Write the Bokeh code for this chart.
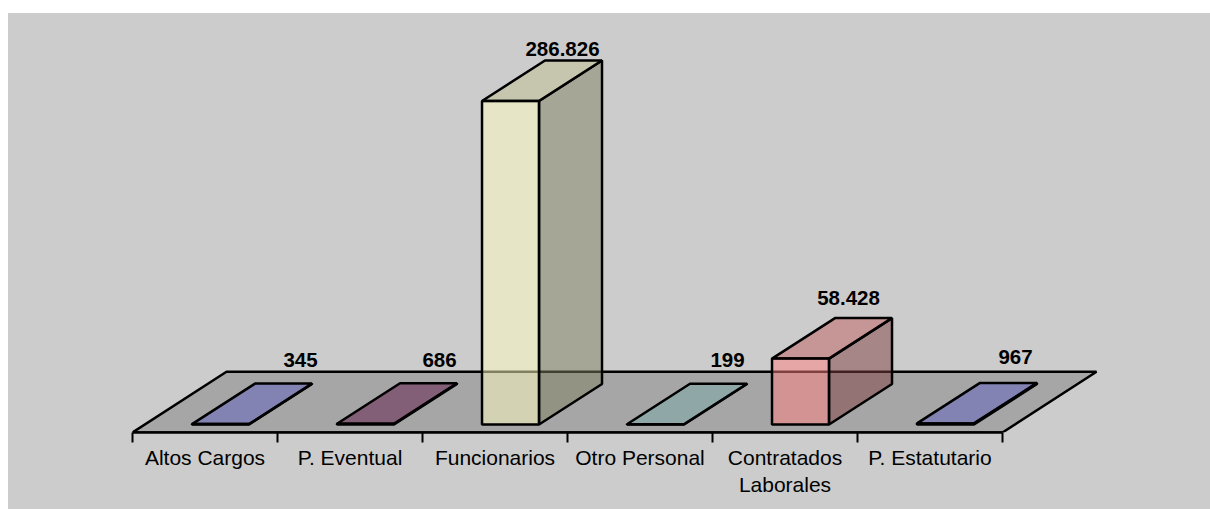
from bokeh.plotting import figure
from bokeh.models import Range1d, LinearAxis, FixedTicker, ColumnDataSource
from bokeh.core.properties import value
from bokeh.embed import file_html
from bokeh.resources import INLINE

# --- data ---
line1 = ["Altos Cargos", "P. Eventual", "Funcionarios", "Otro Personal", "Contratados", "P. Estatutario"]
line2 = ["", "", "", "", "Laborales", ""]
values = [345, 686, 286826, 199, 58428, 967]
value_labels = ["345", "686", "286.826", "199", "58.428", "967"]
colors = ["#8080FF", "#802060", "#FFFFC0", "#A0E0E0", "#FF8080", "#8080FF"]

# --- label placement (screen px relative to the bar's front top) ---
label_dx = [80, 74, 52, 72, 48, 70]
label_dy = [-64, -64, -52, -64, -61, -66]

# --- scales ---
PX_PER_CAT = 145.0
VAL_PER_PX = 286826 / 323.5
FRAME_W, FRAME_H = 968, 402
BASE_PX = 8              # zero plane sits this far above the front axis
BAR_W = 57 / PX_PER_CAT
BAR_SHIFT = 0.107
BAR_DX = 63 / PX_PER_CAT
BAR_DY = 40.5 * VAL_PER_PX
FLOOR_DX = 94 / PX_PER_CAT
FLOOR_DY = 60.7 * VAL_PER_PX
LINE_W = 2.5
y_bottom = -BASE_PX * VAL_PER_PX
n = len(values)

p = figure(
    width=1202, height=496, output_backend="svg", toolbar_location=None,
    frame_width=FRAME_W, frame_height=FRAME_H,
    x_range=Range1d(0, FRAME_W / PX_PER_CAT),
    y_range=Range1d(y_bottom, (FRAME_H - BASE_PX) * VAL_PER_PX),
    x_axis_type=None, y_axis_type=None,
    min_border_left=124, min_border_right=110, min_border_top=17, min_border_bottom=77,
)
p.styles = {"margin-top": "13px", "margin-left": "8px", "background-color": "#cccccc"}
p.background_fill_color = None
p.border_fill_color = None
p.outline_line_color = None
p.grid.visible = False


def shade(hex_color, k):
    r, g, b = (int(hex_color[i:i + 2], 16) for i in (1, 3, 5))
    return "#%02x%02x%02x" % (int(r * k), int(g * k), int(b * k))


# floor
p.patch([0, n, n + FLOOR_DX, FLOOR_DX], [y_bottom, y_bottom, y_bottom + FLOOR_DY, y_bottom + FLOOR_DY],
        fill_color="#a6a6a6", line_color="black", line_width=LINE_W)

# bars
for i, (v, c) in enumerate(zip(values, colors)):
    cx = i + 0.5 + BAR_SHIFT
    x0, x1 = cx - BAR_W / 2, cx + BAR_W / 2
    style = dict(line_color="black", line_width=LINE_W, fill_alpha=0.5)
    p.patch([x1, x1 + BAR_DX, x1 + BAR_DX, x1], [0, BAR_DY, v + BAR_DY, v], fill_color=shade(c, 0.5), **style)
    p.patch([x0, x1, x1 + BAR_DX, x0 + BAR_DX], [v, v, v + BAR_DY, v + BAR_DY], fill_color=shade(c, 0.75), **style)
    p.patch([x0, x1, x1, x0], [0, 0, v, v], fill_color=c, **style)

# value labels
src = ColumnDataSource(dict(
    x=[i + 0.5 + BAR_SHIFT for i in range(n)], y=values, t=value_labels, xo=label_dx, yo=label_dy,
))
p.text("x", "y", text="t", source=src, x_offset="xo", y_offset="yo", text_align="center",
       text_baseline="middle", text_font=value("Liberation Sans"), text_font_size="20.5px",
       text_font_style="bold", text_color="black")

# category axis with ticks between the categories
centers = [i + 0.5 for i in range(n)]
axis = LinearAxis(
    ticker=FixedTicker(ticks=centers, minor_ticks=list(range(n + 1))),
    major_label_overrides={c: t for c, t in zip(centers, line1)},
    bounds=(0, n),
    axis_line_color="black", axis_line_width=LINE_W,
    major_tick_in=0, major_tick_out=0,
    minor_tick_in=0, minor_tick_out=10, minor_tick_line_color="black", minor_tick_line_width=2,
    major_label_standoff=3,
    major_label_text_font="Liberation Sans", major_label_text_font_size="21px",
    major_label_text_color="black",
)
p.add_layout(axis, "below")

second = [c for c, t in zip(centers, line2) if t]
axis2 = LinearAxis(
    ticker=FixedTicker(ticks=second, minor_ticks=[]),
    major_label_overrides={c: t for c, t in zip(centers, line2) if t},
    axis_line_color=None, major_tick_line_color=None, minor_tick_line_color=None,
    major_label_standoff=-5,
    major_label_text_font="Liberation Sans", major_label_text_font_size="21px",
    major_label_text_color="black",
)
p.add_layout(axis2, "below")

open("out.html", "w").write(file_html(p, INLINE))
